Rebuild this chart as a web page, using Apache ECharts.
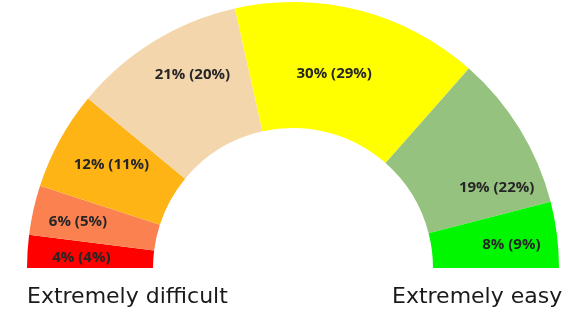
<!DOCTYPE html>
<html>
<head>
<meta charset="utf-8">
<script src="https://cdn.jsdelivr.net/npm/echarts@6/dist/echarts.min.js"></script>
<style>
  html, body { margin: 0; padding: 0; background: #fff; }
  #main { width: 572px; height: 318px; }
</style>
</head>
<body>
<div id="main"></div>
<script>
// 数据
var categories = ['Extremely difficult', 'Difficult', 'Somewhat difficult', 'Neutral', 'Somewhat easy', 'Easy', 'Extremely easy'];
var values = [4, 6, 12, 21, 30, 19, 8];
var valuesPrev = [4, 5, 11, 20, 29, 22, 9];
var colors = ['#ff0000', '#fb8250', '#fdb414', '#f4d6ad', '#ffff00', '#96c27f', '#00f700'];

var myChart = echarts.init(document.getElementById('main'));

// 标签微调 (Excel 的标签不在扇区正中)
var labelShift = [[-6, 3], [-14, -1], [-1, -4], [7, -18], [-10, 5], [28, 27], [14, 3]];

var dataList = [];
for (var i = 0; i < categories.length; i++) {
    dataList.push({
        name: categories[i],
        value: values[i],
        itemStyle: { color: colors[i] },
        label: { offset: labelShift[i] }
    });
}

var option = {
    animation: false,
    series: [
        {
            type: 'pie',
            center: [293, 268],
            radius: [140, 266],
            startAngle: 180,
            endAngle: 0,
            clockwise: true,
            avoidLabelOverlap: false,
            label: {
                show: true,
                position: 'inside',
                color: '#262626',
                fontFamily: 'Open Sans',
                fontWeight: 'bold',
                fontSize: 15,
                formatter: function (p) {
                    return values[p.dataIndex] + '% (' + valuesPrev[p.dataIndex] + '%)';
                }
            },
            labelLine: { show: false },
            itemStyle: { borderWidth: 0 },
            data: dataList
        }
    ],
    graphic: [
        {
            type: 'text',
            left: 27,
            top: 286,
            style: { text: 'Extremely difficult', font: '22px "DejaVu Sans"', fill: '#1a1a1a' }
        },
        {
            type: 'text',
            left: 392,
            top: 286,
            style: { text: 'Extremely easy', font: '22px "DejaVu Sans"', fill: '#1a1a1a' }
        }
    ]
};
myChart.setOption(option);
</script>
</body>
</html>
